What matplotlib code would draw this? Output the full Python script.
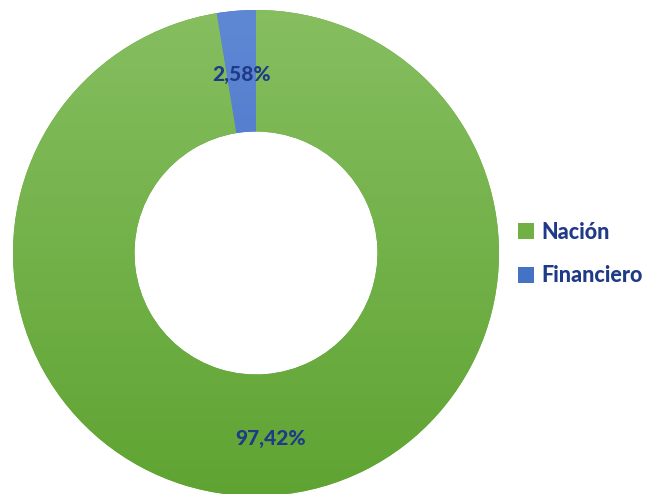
import matplotlib
matplotlib.use("Agg")
import matplotlib.pyplot as plt
import numpy as np
from matplotlib.colors import LinearSegmentedColormap
from matplotlib.patches import Patch

labels = ["Nación", "Financiero"]
shares = [97.42, 2.58]
pct_text = ["97,42%", "2,58%"]
top_colors = ["#86be60", "#5f88d4"]
bottom_colors = ["#5fa432", "#3a66c1"]
text_color = "#1f3b87"

plt.rcParams['font.family'] = ['Lato', 'DejaVu Sans']

fig = plt.figure(figsize=(6.64, 4.94), dpi=100)
ax = fig.add_axes([13 / 664, -2 / 494, 486 / 664, 486 / 494])

wedges, _ = ax.pie(shares, startangle=90, counterclock=False, radius=1.0,
                   colors=bottom_colors,
                   wedgeprops=dict(width=0.5, edgecolor="none"))

# vertical gradient fill inside each wedge
grad = np.linspace(0, 1, 256).reshape(-1, 1)
for w, c_top, c_bot in zip(wedges, top_colors, bottom_colors):
    cmap = LinearSegmentedColormap.from_list("g", [c_bot, c_top])
    im = ax.imshow(grad, cmap=cmap, extent=[-1, 1, -1, 1], origin="lower",
                   aspect="auto", zorder=1.5)
    im.set_clip_path(w)

# percentage labels at the middle of the ring
start = 90.0
for share, txt in zip(shares, pct_text):
    span = share / sum(shares) * 360
    mid = np.deg2rad(start - span / 2)
    ax.text(0.75 * np.cos(mid), 0.75 * np.sin(mid) - 0.015, txt, ha="center", va="center",
            fontsize=15, fontweight="black", color=text_color, zorder=3)
    start -= span

ax.set_xlim(-1, 1)
ax.set_ylim(-1, 1)
ax.set_aspect("equal")
ax.axis("off")

handles = [Patch(facecolor=c, edgecolor="none") for c in ["#70b045", "#4472c4"]]
fig.legend(handles, labels, loc="center left", bbox_to_anchor=(518 / 664, 1 - 254 / 494),
           frameon=False, borderpad=0, borderaxespad=0,
           handlelength=0.75, handleheight=0.75, handletextpad=0.35,
           labelspacing=1.05, prop=dict(size=15.5, weight="black"), labelcolor=text_color)

fig.savefig("out.png", dpi=100)
